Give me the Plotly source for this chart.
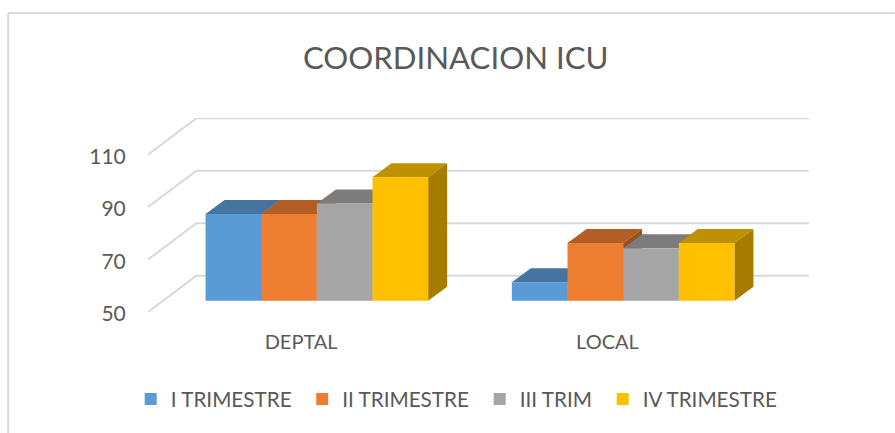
import plotly.graph_objects as go

categories = ["DEPTAL", "LOCAL"]
series_names = ["I TRIMESTRE", "II TRIMESTRE", "III TRIM", "IV TRIMESTRE"]
i_trimestre = [83, 57]
ii_trimestre = [83, 72]
iii_trim = [87, 70]
iv_trimestre = [97, 72]
series_values = [i_trimestre, ii_trimestre, iii_trim, iv_trimestre]
y_ticks = [50, 70, 90, 110]

front_colors = ["#5B9BD5", "#ED7D31", "#A5A5A5", "#FFC000"]
top_colors = ["#44749F", "#B25E25", "#7C7C7C", "#BF9000"]
side_colors = ["#3B6588", "#9A5120", "#6B6B6B", "#A67D00"]
legend_ids = ["legend", "legend2", "legend3", "legend4"]
legend_left_px = [131, 302.5, 480, 603]
GRID = "#D9D9D9"
TEXT = "#595959"
FONT = "Lato, Carlito, Calibri, sans-serif"

W, H = 895, 433
LEFT, RIGHT_X, TOP_Y, BASE_Y = 148.3, 809.3, 118.3, 312.0
PX_PER_CAT = 306.3
PX_PER_UNIT = 2.62

x_min = -0.5
x_max = x_min + (RIGHT_X - LEFT) / PX_PER_CAT
wall_dx = 48.4 / PX_PER_CAT
wall_dy = 36.3 / PX_PER_UNIT
y_min = y_ticks[0]
y_max = y_min + (BASE_Y - TOP_Y) / PX_PER_UNIT
bar_width = 55.65 / PX_PER_CAT
bar_shift = 15.7 / PX_PER_CAT
bar_lift = 11.3 / PX_PER_UNIT
depth_dx = 19 / PX_PER_CAT
depth_dy = 14 / PX_PER_UNIT


def poly(points):
    head, *rest = points
    return "M{},{} ".format(*head) + " ".join("L{},{}".format(*p) for p in rest) + " Z"


shapes = []
for t in y_ticks:
    shapes.append(dict(
        type="path", xref="x", yref="y", layer="below",
        path="M{},{} L{},{} L{},{}".format(
            x_min, t, x_min + wall_dx, t + wall_dy, x_max, t + wall_dy),
        line=dict(color=GRID, width=2),
    ))

fig = go.Figure()
for s, (name, values) in enumerate(zip(series_names, series_values)):
    xs = [c + bar_shift + (s - 1.5) * bar_width for c in range(len(categories))]
    for xc, v in zip(xs, values):
        x0, x1 = xc - bar_width / 2, xc + bar_width / 2
        b, t = y_min + bar_lift, v + bar_lift
        shapes.append(dict(
            type="path", xref="x", yref="y", layer="below",
            path=poly([(x0, t), (x1, t), (x1 + depth_dx, t + depth_dy), (x0 + depth_dx, t + depth_dy)]),
            fillcolor=top_colors[s], line=dict(width=0),
        ))
        shapes.append(dict(
            type="path", xref="x", yref="y", layer="below",
            path=poly([(x1, b), (x1 + depth_dx, b + depth_dy), (x1 + depth_dx, t + depth_dy), (x1, t)]),
            fillcolor=side_colors[s], line=dict(width=0),
        ))
    fig.add_bar(
        x=xs,
        y=[v - y_min for v in values],
        base=y_min + bar_lift,
        width=bar_width,
        name=name,
        legend=legend_ids[s],
        showlegend=True,
        marker=dict(color=front_colors[s], line=dict(width=0)),
        customdata=values,
        hovertemplate="%{customdata}<extra>" + name + "</extra>",
    )

# outer chart frame
fx = (8.5 - LEFT) / (RIGHT_X - LEFT)
fy = (BASE_Y - 13.5) / (BASE_Y - TOP_Y)
shapes.append(dict(type="line", xref="paper", yref="paper", layer="below",
                   x0=fx, x1=fx, y0=(BASE_Y - H) / (BASE_Y - TOP_Y), y1=fy,
                   line=dict(color=GRID, width=2)))
shapes.append(dict(type="line", xref="paper", yref="paper", layer="below",
                   x0=fx, x1=(W - LEFT) / (RIGHT_X - LEFT), y0=fy, y1=fy,
                   line=dict(color=GRID, width=2)))

legends = {
    lid: dict(orientation="h", x=(px - LEFT) / (RIGHT_X - LEFT), xanchor="left",
              y=(BASE_Y - 399) / (BASE_Y - TOP_Y), yanchor="middle",
              font=dict(family=FONT, size=20.7, color=TEXT), bgcolor="rgba(0,0,0,0)")
    for lid, px in zip(legend_ids, legend_left_px)
}

fig.update_layout(
    width=W, height=H,
    margin=dict(l=LEFT, r=W - RIGHT_X, t=TOP_Y, b=H - BASE_Y, pad=0),
    paper_bgcolor="white", plot_bgcolor="rgba(0,0,0,0)",
    barmode="overlay",
    shapes=shapes,
    font=dict(family=FONT, color=TEXT),
    title=dict(text="COORDINACION ICU", x=455.7 / W, xanchor="center",
               y=1 - 58 / H, yanchor="middle",
               font=dict(family=FONT, size=31.2, color=TEXT)),
    xaxis=dict(range=[x_min, x_max], tickmode="array", tickvals=list(range(len(categories))),
               ticktext=categories, showgrid=False, zeroline=False, showline=False,
               ticks="outside", ticklen=12, tickcolor="rgba(0,0,0,0)",
               tickfont=dict(family=FONT, size=20, color=TEXT), fixedrange=True),
    yaxis=dict(range=[y_min, y_max], tickmode="array", tickvals=y_ticks,
               showgrid=False, zeroline=False, showline=False,
               ticks="outside", ticklen=17, tickcolor="rgba(0,0,0,0)", ticklabelshift=2,
               tickfont=dict(family=FONT, size=21, color=TEXT), fixedrange=True),
    showlegend=True,
    **legends,
)

fig.write_html("out.html", config=dict(displayModeBar=False),
               post_script="document.body.style.margin='0';document.body.style.overflow='hidden';")
